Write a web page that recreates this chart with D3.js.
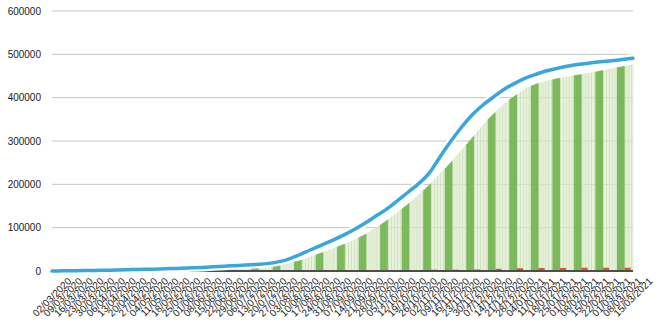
<!DOCTYPE html>
<html>
<head>
<meta charset="utf-8">
<script src="https://cdn.jsdelivr.net/npm/d3@7"></script>
<style>
  html,body{margin:0;padding:0;background:#fff;}
  svg{display:block;font-family:"Liberation Sans",Arial,Helvetica,sans-serif;}
</style>
</head>
<body>
<div id="chart"></div>
<script>
// weekly category labels (one per Monday)
const weekLabels=["02/03/2020","09/03/2020","16/03/2020","23/03/2020","30/03/2020","06/04/2020","13/04/2020","20/04/2020","27/04/2020","04/05/2020","11/05/2020","18/05/2020","25/05/2020","01/06/2020","08/06/2020","15/06/2020","22/06/2020","29/06/2020","06/07/2020","13/07/2020","20/07/2020","27/07/2020","03/08/2020","10/08/2020","17/08/2020","24/08/2020","31/08/2020","07/09/2020","14/09/2020","21/09/2020","28/09/2020","05/10/2020","12/10/2020","19/10/2020","26/10/2020","02/11/2020","09/11/2020","16/11/2020","23/11/2020","30/11/2020","07/12/2020","14/12/2020","21/12/2020","28/12/2020","04/01/2021","11/01/2021","18/01/2021","25/01/2021","01/02/2021","08/02/2021","15/02/2021","22/02/2021","01/03/2021","08/03/2021","15/03/2021"];

// line series, one value per labelled week (thousands)
const lineValues=[0,0.3,0.7,1.0,1.4,1.8,2.3,2.9,3.5,4.0,4.7,5.5,6.4,7.3,8.3,9.6,11.0,12.3,13.7,15.2,17.0,21.0,27.5,37.5,48.5,59,70,81.5,94.5,109,125,141,160,180,200,224,261,297,330,359,382,401,419,433,445,454,462,468,473,477,480,483,485,488,491];

// daily bars from 02/03/2020 (thousands)
const barValues=[
0,0.1,0.1,0.2,0.2,0.3,0.3,0.4,0.4,0.5,0.5,0.6,0.6,0.7,0.7,0.8,0.8,0.9,0.9,1.0,1.0,1.1,1.1,1.2,1.2,1.3,1.3,1.3,1.4,1.4,1.4,1.5,1.5,1.5,1.6,1.6,1.6,1.7,1.7,1.7,
1.8,1.8,1.8,1.8,1.9,1.9,1.9,1.9,2.0,2.0,2.0,2.0,2.1,2.1,2.1,2.1,2.2,2.2,2.2,2.2,2.3,2.3,2.3,2.3,2.4,2.4,2.4,2.4,2.5,2.5,2.5,2.5,2.6,2.6,2.6,2.6,2.7,2.7,2.7,2.7,2.8,2.8,2.8,2.8,2.9,2.9,2.9,2.9,3.0,3.0,3.0,3.0,3.0,3.0,3.0,3.0,
3.2,3.4,3.6,3.8,4.0,4.2,4.4,4.6,4.8,5.0,5.2,5.4,5.6,5.8,6.0,6.2,6.5,6.8,7.0,7.3,7.6,7.8,8.0,8.2,8.4,8.6,8.8,9.0,9.2,9.4,9.6,9.8,10.0,10.2,10.4,10.6,10.8,11.0,11.2,11.4,11.5,11.6,11.8,12.0,
12.3,12.6,12.9,13.2,13.6,14.0,14.4,14.8,15.2,15.6,16.2,16.8,17.5,18.2,18.9,19.6,20.3,21.0,21.7,22.4,23.2,
24.2,25.4,26.6,27.8,29.0,30.3,31.6,32.9,34.2,35.5,36.8,38.1,39.4,40.7,42.0,43.3,44.6,45.9,47.2,48.5,49.8,51.1,
52.4,53.8,55.2,56.6,58.0,59.4,60.8,62.2,63.6,65.0,66.5,68.0,69.7,71.4,73.1,74.8,76.5,78.2,79.9,81.6,83.5,85.4,
87.5,89.7,91.9,94.1,96.3,98.5,100.8,103.1,105.4,107.7,110.0,112.5,115.0,117.5,120.0,122.5,125.1,127.8,130.5,133.2,135.9,
138.7,141.6,144.5,147.4,150.3,153.2,156.1,159.0,162.0,165.0,168.0,171.0,174.2,177.4,180.6,
184.0,187.4,190.8,194.2,197.6,201.2,204.8,208.4,212.0,215.6,219.2,222.8,226.5,230.2,233.9,237.6,
241.5,245.4,249.3,253.2,257.1,261.0,265.0,269.0,273.0,277.0,
281.0,285.2,289.4,293.6,297.8,302.0,306.2,310.4,314.6,318.8,323.0,327.2,331.4,335.6,339.8,344.0,
348.0,351.6,355.2,358.8,362.2,365.6,369.0,372.4,
375.8,379.0,382.0,385.0,388.0,390.8,393.6,396.4,399.2,401.8,404.4,407.0,
409.4,411.8,414.0,416.2,418.4,420.4,422.4,424.2,426.0,427.6,429.2,430.6,432.0,433.2,
434.2,435.2,436.2,437.2,438.1,439.0,439.9,440.8,441.6,442.4,443.2,444.0,444.7,445.4,446.1,446.8,447.4,448.0,
448.6,449.2,449.8,450.4,451.0,451.6,452.2,452.8,453.4,454.0,454.6,455.2,455.8,456.4,457.0,457.6,458.2,
458.9,459.6,460.3,461.0,461.7,462.4,463.1,463.8,464.5,465.2,465.9,466.6,467.3,468.0,468.7,469.4,
470.1,470.8,471.5,472.1,472.7,473.3,473.9,474.5,475.1,475.7,476.3
];

// small red series: block start dates and values (thousands)
const redDates=["04/11/2020","18/11/2020","02/12/2020","16/12/2020","30/12/2020","13/01/2021","27/01/2021","10/02/2021","24/02/2021","10/03/2021"];
const redValues=[3,3,3.5,5,6.5,7,7,7.5,7.5,7.5];

const yTicks=[0,100000,200000,300000,400000,500000,600000];

const W=660,H=330;
const left=52,right=633,y0=271,yTop=11;
const parse=d3.utcParse("%d/%m/%Y");
const start=parse(weekLabels[0]);
const end=parse(weekLabels[weekLabels.length-1]);

const svg=d3.select("#chart").append("svg").attr("width",W).attr("height",H);

const x=d3.scaleUtc().domain([start,end]).range([left,right]);
const y=d3.scaleLinear().domain([0,600000]).range([y0,yTop]);
const step=x(d3.utcDay.offset(start,1))-x(start);

// gridlines + y labels
svg.append("g").selectAll("line")
  .data(yTicks.slice(1)).join("line")
  .attr("x1",left).attr("x2",right)
  .attr("y1",d=>y(d)).attr("y2",d=>y(d))
  .attr("stroke","#c4c4c4").attr("stroke-width",1);

svg.append("g").selectAll("text")
  .data(yTicks).join("text")
  .attr("x",41).attr("y",d=>y(d))
  .attr("text-anchor","end").attr("dominant-baseline","central")
  .attr("font-size",10).attr("fill","#222")
  .text(d=>d);

// daily bars: two-week banding, dark band for days 4..8 of each fortnight
const isDark=i=>{const k=i%14;return k>=4&&k<=8;};
const bars=barValues.map((v,i)=>({date:d3.utcDay.offset(start,i),v:v*1000,i}));
svg.append("g").selectAll("rect")
  .data(bars).join("rect")
  .attr("x",d=>x(d.date)-step/2)
  .attr("width",d=>isDark(d.i)?step+0.5:step*0.8)
  .attr("y",d=>y(d.v))
  .attr("height",d=>y0-y(d.v))
  .attr("fill",d=>isDark(d.i)?"#7ab85a":(d.i%2?"#cfe3ba":"#e0ecd3"));

// red bars
const reds=redDates.map((s,i)=>({date:parse(s),v:redValues[i]*1000}));
svg.append("g").selectAll("rect")
  .data(reds).join("rect")
  .attr("x",d=>x(d.date)-step/2)
  .attr("width",d=>x(d3.utcDay.offset(d.date,4))-x(d.date))
  .attr("y",d=>y(d.v))
  .attr("height",d=>y0-y(d.v))
  .attr("fill","#e4532b");

// zero axis
svg.append("line")
  .attr("x1",left).attr("x2",right)
  .attr("y1",y0).attr("y2",y0)
  .attr("stroke","#4d4d4d").attr("stroke-width",2);

// line with white halo
const lineData=weekLabels.map((s,i)=>({date:parse(s),v:lineValues[i]*1000}));
const line=d3.line().x(d=>x(d.date)).y(d=>y(d.v)).curve(d3.curveMonotoneX);
svg.append("path").datum(lineData)
  .attr("d",line).attr("fill","none")
  .attr("stroke","#fff").attr("stroke-width",8).attr("stroke-linejoin","round");
svg.append("path").datum(lineData)
  .attr("d",line).attr("fill","none")
  .attr("stroke","#39a6dd").attr("stroke-width",3.5)
  .attr("stroke-linejoin","round").attr("stroke-linecap","round");

// rotated x labels, centred on their ticks
svg.append("g").selectAll("text")
  .data(weekLabels).join("text")
  .attr("transform",d=>`translate(${x(parse(d))},297) rotate(-45)`)
  .attr("text-anchor","middle").attr("dominant-baseline","central")
  .attr("font-size",10).attr("fill","#222")
  .text(d=>d);
</script>
</body>
</html>
